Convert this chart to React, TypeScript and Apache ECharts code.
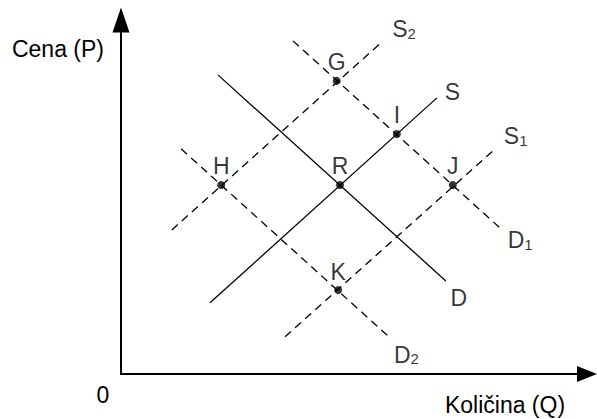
import React, { useEffect, useRef } from "react";
import * as echarts from "echarts";

// Curves: two end points each, in data units [quantity, price]
const supplyS: number[][] = [[1.91, 2.01], [6.78, 7.80]];
const demandD: number[][] = [[2.08, 8.45], [6.97, 2.63]];
const supplyS1: number[][] = [[3.52, 1.05], [8.03, 6.36]];
const supplyS2: number[][] = [[1.09, 4.07], [5.60, 9.38]];
const demandD1: number[][] = [[3.69, 9.41], [8.18, 4.07]];
const demandD2: number[][] = [[1.29, 6.36], [5.75, 1.05]];

// Equilibrium points
const pointNames = ["G", "I", "R", "J", "H", "K"];
const pointQ = [4.63, 5.92, 4.70, 7.12, 2.15, 4.66];
const pointP = [8.28, 6.78, 5.34, 5.34, 5.34, 2.37];

// Texts
const yAxisTitle = "Cena (P)";
const xAxisTitle = "Količina (Q)";
const originLabel = "0";

const FONT = "'Liberation Sans', Arial, Helvetica, sans-serif";
const FS = 23;

// Presentation of each curve (style and label placement)
const curveDefs = [
  { main: "S", sub: "", data: supplyS, dashed: false, offset: [15.5, -6] },
  { main: "D", sub: "", data: demandD, dashed: false, offset: [13, 17.5] },
  { main: "S", sub: "1", data: supplyS1, dashed: true, offset: [20.5, -12.5] },
  { main: "S", sub: "2", data: supplyS2, dashed: true, offset: [22, -12.5] },
  { main: "D", sub: "1", data: demandD1, dashed: true, offset: [18, 10.5] },
  { main: "D", sub: "2", data: demandD2, dashed: true, offset: [17.5, 18] },
];

export default function App() {
  const ref = useRef<HTMLDivElement>(null);

  useEffect(() => {
    if (!ref.current) return;
    const chart = echarts.init(ref.current, undefined, { renderer: "svg" });

    const lineSeries = curveDefs.map((c) => ({
      type: "line",
      data: c.data,
      symbol: "none",
      silent: true,
      lineStyle: {
        color: "#000",
        width: 1.3,
        type: c.dashed ? [8, 5.5] : "solid",
      },
      z: 2,
    }));

    const curveLabelSeries = {
      type: "scatter",
      symbol: "circle",
      symbolSize: 1,
      silent: true,
      itemStyle: { color: "rgba(0,0,0,0)" },
      data: curveDefs.map((c) => ({
        value: c.data[c.data.length - 1],
        label: {
          show: true,
          position: "inside",
          offset: c.offset,
          formatter: c.sub ? `{m|${c.main}}{s|${c.sub}}` : `{m|${c.main}}`,
        },
      })),
      label: {
        color: "#000",
        fontFamily: FONT,
        rich: {
          m: { fontSize: FS, fontFamily: FONT, color: "#000", lineHeight: FS },
          s: {
            fontSize: 15,
            fontFamily: FONT,
            color: "#000",
            lineHeight: 8,
            verticalAlign: "bottom",
          },
        },
      },
      z: 3,
    };

    const pointSeries = {
      type: "scatter",
      symbol: "circle",
      symbolSize: 8,
      silent: true,
      itemStyle: { color: "#000" },
      data: pointNames.map((n, i) => ({ name: n, value: [pointQ[i], pointP[i]] })),
      label: {
        show: true,
        position: "inside",
        offset: [0, -18.5],
        formatter: "{b}",
        color: "#000",
        fontSize: FS,
        fontFamily: FONT,
      },
      z: 4,
    };

    chart.setOption({
      animation: false,
      backgroundColor: "#fff",
      grid: { left: 121, right: 10, top: 20, bottom: 45 },
      xAxis: {
        type: "value",
        min: 0,
        max: 10,
        axisLine: {
          show: true,
          symbol: ["none", "triangle"],
          symbolSize: [16, 20],
          lineStyle: { color: "#000", width: 2 },
        },
        axisTick: { show: false },
        axisLabel: { show: false },
        splitLine: { show: false },
      },
      yAxis: {
        type: "value",
        min: 0,
        max: 10,
        axisLine: {
          show: true,
          symbol: ["none", "triangle"],
          symbolSize: [17, 25],
          lineStyle: { color: "#000", width: 2 },
        },
        axisTick: { show: false },
        axisLabel: { show: false },
        splitLine: { show: false },
      },
      graphic: [
        {
          type: "text",
          x: 104,
          y: 49,
          style: {
            text: yAxisTitle,
            fontSize: FS,
            fontFamily: FONT,
            fill: "#000",
            align: "right",
            verticalAlign: "middle",
          },
        },
        {
          type: "text",
          x: 505,
          y: 405,
          style: {
            text: xAxisTitle,
            fontSize: FS,
            fontFamily: FONT,
            fill: "#000",
            align: "center",
            verticalAlign: "middle",
          },
        },
        {
          type: "text",
          x: 103,
          y: 395,
          style: {
            text: originLabel,
            fontSize: FS,
            fontFamily: FONT,
            fill: "#000",
            align: "center",
            verticalAlign: "middle",
          },
        },
      ],
      series: [...lineSeries, curveLabelSeries, pointSeries],
    });

    return () => chart.dispose();
  }, []);

  return (
    <div
      ref={ref}
      style={{ position: "absolute", left: 0, top: 0, width: 597, height: 419 }}
    />
  );
}
